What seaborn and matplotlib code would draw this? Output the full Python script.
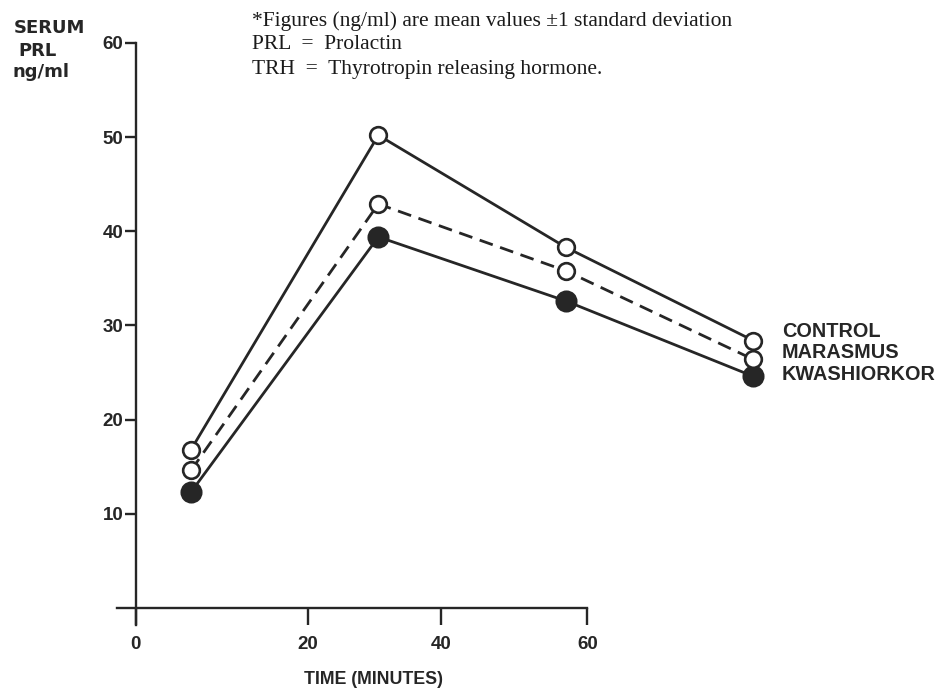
import numpy as np
import pandas as pd
import seaborn as sns
import matplotlib.pyplot as plt

# values (serum PRL, ng/ml)
times = [0, 20, 40, 60]
control = [16.8, 50.2, 38.3, 28.4]
marasmus = [14.6, 42.9, 35.8, 26.4]
kwashiorkor = [12.3, 39.4, 32.6, 24.6]
group_names = ['CONTROL', 'MARASMUS', 'KWASHIORKOR']

x_tick_labels = ['0', '20', '40', '60']
y_ticks = [10, 20, 30, 40, 50, 60]
y_title = ['SERUM', 'PRL', 'ng/ml']
x_title = 'TIME (MINUTES)'
notes = ['*Figures (ng/ml) are mean values \u00b11 standard deviation',
         'PRL  =  Prolactin',
         'TRH  =  Thyrotropin releasing hormone.']

# the hand-drawn x axis has its ticks where the author put them, not under the points
x_tick_pos = [-5.9, 12.5, 26.7, 42.3]

W, H = 940, 692
ink = '#262626'


def fx(px):
    return px / W


def fy(py):
    return 1 - py / H


sns.set_theme(style='white')
plt.rcParams['font.family'] = ['Liberation Sans', 'DejaVu Sans']

df = pd.DataFrame({
    'time': times * 3,
    'prl': control + marasmus + kwashiorkor,
    'group': np.repeat(group_names, len(times)),
})

fig = plt.figure(figsize=(W / 100, H / 100), dpi=100)
fig.patch.set_facecolor('white')
ax = fig.add_axes([fx(116), fy(631.5), (809.4 - 116) / W, (631.5 - 24.1) / H])
ax.set_facecolor('none')

line_styles = {
    'CONTROL': dict(linestyle='-', markerfacecolor='white', markersize=12),
    'MARASMUS': dict(linestyle=(0, (5, 2.8)), markerfacecolor='white', markersize=12),
    'KWASHIORKOR': dict(linestyle='-', markerfacecolor=ink, markersize=14),
}
for name in ['KWASHIORKOR', 'MARASMUS', 'CONTROL']:
    sns.lineplot(data=df[df['group'] == name], x='time', y='prl', ax=ax,
                 color=ink, linewidth=2.0, marker='o',
                 markeredgecolor=ink, markeredgewidth=1.9, **line_styles[name])

ax.set_xlim(-8, 66)
ax.set_ylim(-2.5, 62)
ax.spines[['top', 'right']].set_visible(False)
ax.spines['left'].set_position(('data', x_tick_pos[0]))
ax.spines['bottom'].set_position(('data', 0))
ax.spines['left'].set_bounds(-1.8, 60)
ax.spines['bottom'].set_bounds(-7.9, x_tick_pos[-1])
for s in ['left', 'bottom']:
    ax.spines[s].set_linewidth(1.7)
    ax.spines[s].set_color(ink)

ax.set_yticks(y_ticks)
ax.set_xticks(x_tick_pos, x_tick_labels)
ax.tick_params(axis='both', direction='out', width=1.7, color=ink,
               labelsize=13.5, labelcolor=ink, left=True, bottom=True)
ax.tick_params(axis='y', length=8, pad=1)
ax.tick_params(axis='x', length=12, pad=8)
for lab in ax.get_xticklabels() + ax.get_yticklabels():
    lab.set_fontweight('bold')

ax.set_ylabel('')
ax.set_xlabel(x_title, fontweight='bold', fontsize=12.8, color=ink)
ax.xaxis.set_label_coords(fx(373), fy(679), transform=fig.transFigure)
ax.xaxis.label.set_va('center')

# y axis title block, top left
for txt, x, y in zip(y_title, [14, 18, 12], [28, 51, 72]):
    fig.text(fx(x), fy(y), txt, ha='left', va='center', fontsize=13,
             fontweight='bold', color=ink, family=['DejaVu Sans'])

# group names next to the last points
for txt, y in zip(group_names, [332, 353, 375]):
    fig.text(fx(782), fy(y), txt, ha='left', va='center', fontsize=14.3,
             fontweight='bold', color=ink)

for txt, y in zip(notes, [26, 49, 74]):
    fig.text(fx(252), fy(y), txt, ha='left', va='baseline', fontsize=15.5,
             family=['Liberation Serif', 'DejaVu Serif'], color='#1a1a1a')

fig.savefig('out.png', dpi=100, facecolor='white')
